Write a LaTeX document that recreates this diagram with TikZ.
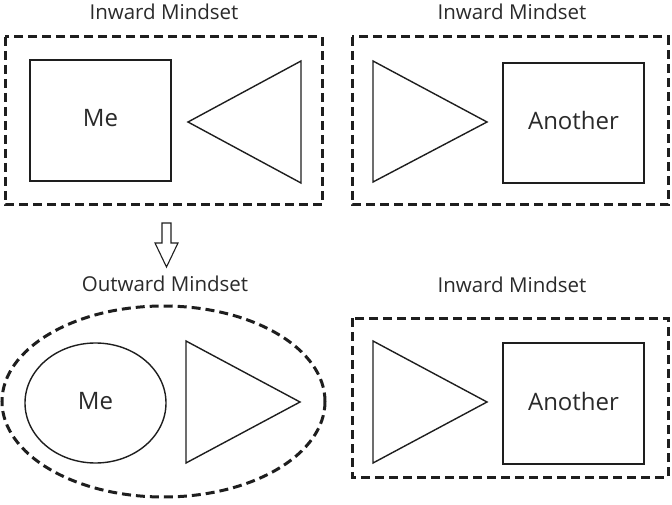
\documentclass[tikz,border=0pt]{standalone}
\usepackage{fontspec}
\setmainfont{Open Sans}
\usetikzlibrary{shapes.geometric}
\definecolor{ink}{HTML}{1E1E1E}
\definecolor{txt}{HTML}{2A2A2A}
\tikzset{
  dashbox/.style={draw=ink, line width=3pt, dash pattern=on 9pt off 5pt},
  solidbox/.style={draw=ink, line width=1.4pt, line join=miter},
  title/.style={text=txt, font=\fontsize{20.5}{24}\selectfont},
  label/.style={text=txt, font=\fontsize{24}{28}\selectfont},
}
\begin{document}
\begin{tikzpicture}[x=1pt,y=-1pt]
\useasboundingbox (0,0) rectangle (672,505);
% top-left
\node[title] (t1) at (164,12) {Inward Mindset};
\draw[dashbox] (5,37) rectangle (322,205);
\node[solidbox, minimum width=141pt, minimum height=121pt, inner sep=0pt] (me1) at (100.5,120.5) {};
\node[label] (me1t) at (100.5,118.5) {Me};
\draw[solidbox] (301,61) -- (188,122) -- (301,183) -- cycle;
% top-right
\node[title] (t2) at (512,12) {Inward Mindset};
\draw[dashbox] (352,37) rectangle (668,205);
\draw[solidbox] (373,61) -- (487,122) -- (373,182) -- cycle;
\node[solidbox, minimum width=141pt, minimum height=120pt, inner sep=0pt] (an1) at (573.5,123) {};
\node[label] (an1t) at (573.5,120.5) {Another};
% arrow
\draw[solidbox, line width=1.1pt] (162,223) -- (171,223) -- (171,243) -- (178,243) -- (166.5,267) -- (155,243) -- (162,243) -- cycle;
% bottom-left
\node[title] (t3) at (165,284) {Outward Mindset};
\node[dashbox, ellipse, minimum width=323pt, minimum height=191pt, inner sep=0pt] (oe) at (163.5,401.5) {};
\node[solidbox, ellipse, minimum width=141pt, minimum height=120pt, inner sep=0pt] (me2) at (95.5,403) {};
\node[label] (me2t) at (95.5,401) {Me};
\draw[solidbox] (186,341) -- (300,402) -- (186,463) -- cycle;
% bottom-right
\node[title] (t4) at (512,285) {Inward Mindset};
\draw[dashbox] (352,318) rectangle (668,477);
\draw[solidbox] (373,341) -- (487,402) -- (373,463) -- cycle;
\node[solidbox, minimum width=141pt, minimum height=121pt, inner sep=0pt] (an2) at (573.5,403.5) {};
\node[label] (an2t) at (573.5,401) {Another};
\end{tikzpicture}
\end{document}
